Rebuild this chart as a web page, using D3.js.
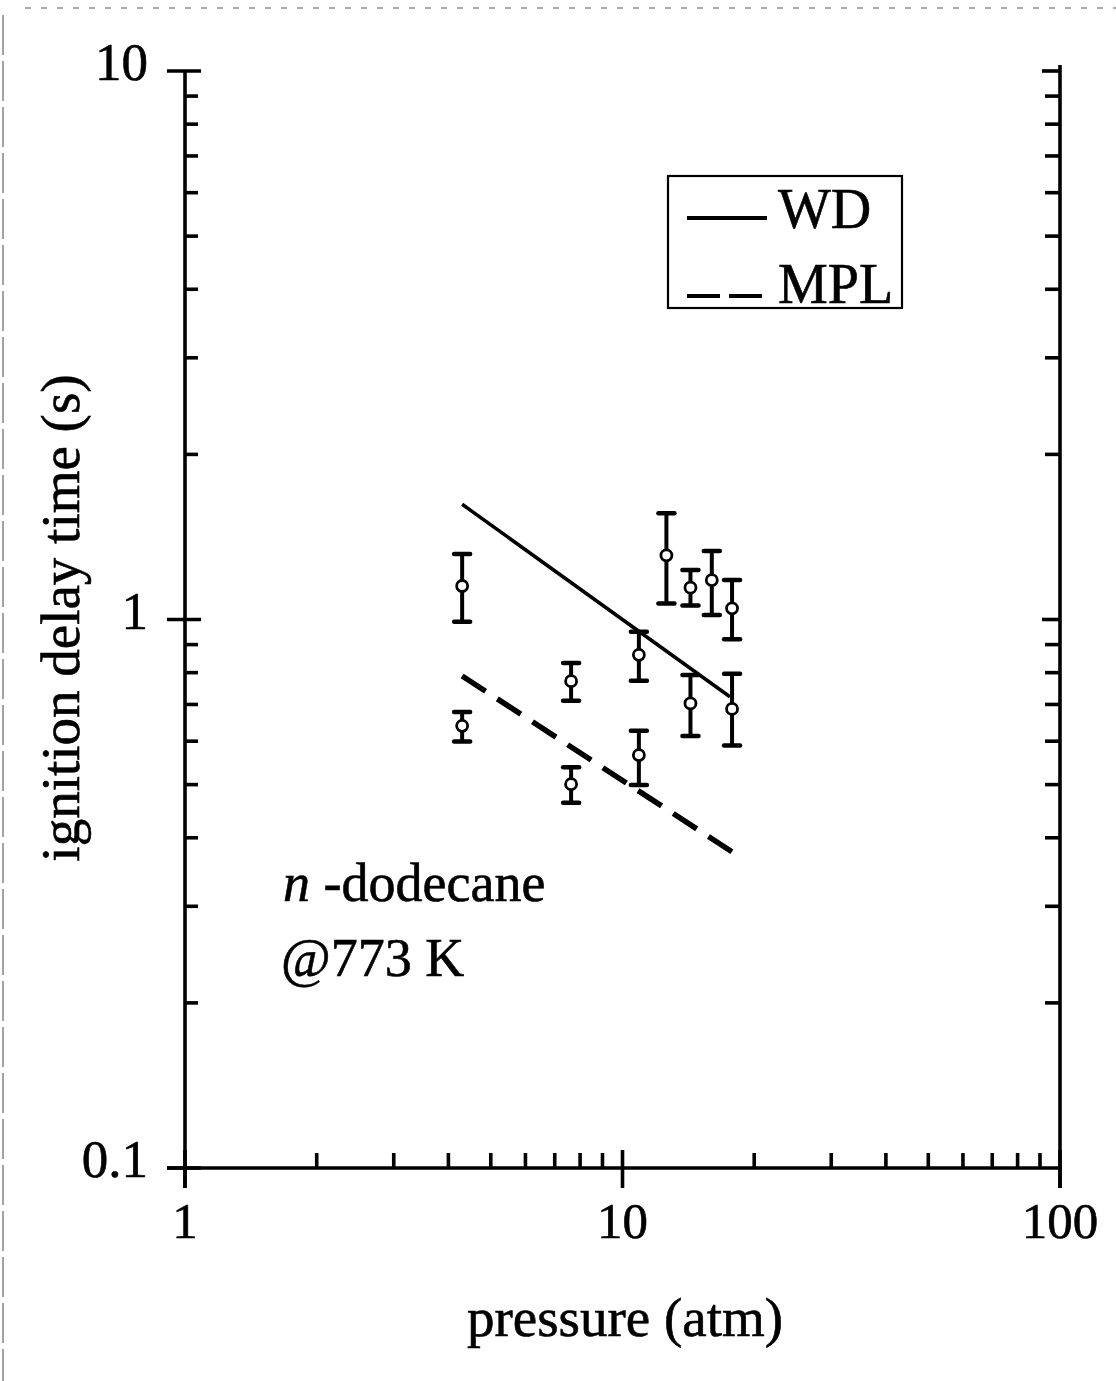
<!DOCTYPE html>
<html>
<head>
<meta charset="utf-8">
<script src="https://cdn.jsdelivr.net/npm/d3@7"></script>
<style>
  html, body { margin: 0; padding: 0; background: #fff; }
  svg { display: block; }
  text { font-family: "Liberation Serif", "DejaVu Serif", serif; fill: #000; stroke: #000; stroke-width: 0.6; }
</style>
</head>
<body>
<svg id="chart" width="1116" height="1381"></svg>
<script>
// ---- data ----
const pressure = [4.30, 4.30, 7.63, 7.63, 10.9, 10.9, 12.6, 14.3, 16.0, 17.8, 14.3, 17.8];
const delay    = [1.151, 0.640, 0.772, 0.501, 0.862, 0.566, 1.309, 1.143, 1.180, 1.048, 0.703, 0.687];
const errHigh  = [1.316, 0.678, 0.833, 0.538, 0.950, 0.627, 1.562, 1.231, 1.333, 1.180, 0.792, 0.796];
const errLow   = [0.991, 0.599, 0.711, 0.4635, 0.773, 0.499, 1.070, 1.060, 1.019, 0.920, 0.613, 0.589];

const wdP   = [4.30, 17.6];
const wdT   = [1.622, 0.723];
const mplP  = [4.30, 17.8];
const mplT  = [0.789, 0.377];

const xTickLabels = ["1", "10", "100"];
const xTickValues = [1, 10, 100];
const yTickLabels = ["0.1", "1", "10"];
const yTickValues = [0.1, 1, 10];
const legendLabels = ["WD", "MPL"];

// ---- layout ----
const svg = d3.select("#chart");
const x = d3.scaleLog().domain([1, 100]).range([185, 1060]);
const y = d3.scaleLog().domain([0.1, 10]).range([1168, 71]);

const axisW = 3.6;
const g = svg.append("g");

// scan border artifacts
g.append("line").attr("x1", 25).attr("x2", 1116).attr("y1", 8).attr("y2", 8)
  .attr("stroke", "#555").attr("stroke-width", 1.2).attr("stroke-dasharray", "6,10");
g.append("line").attr("x1", 3).attr("x2", 3).attr("y1", 15).attr("y2", 1381)
  .attr("stroke", "#666").attr("stroke-width", 1.2).attr("stroke-dasharray", "40,6");

// minor tick values
const minorX = [];
[1, 10].forEach(d => { for (let k = 2; k <= 9; k++) minorX.push(d * k); });
const minorY = [];
[0.1, 1].forEach(d => { for (let k = 2; k <= 9; k++) minorY.push(d * k); });

const x0 = x(1), x1 = x(100), yb = y(0.1), yt = y(10);

// left axis
g.append("line").attr("x1", x0).attr("x2", x0).attr("y1", yt).attr("y2", yb + 20)
  .attr("stroke", "#000").attr("stroke-width", axisW);
// right axis
g.append("line").attr("x1", x1).attr("x2", x1).attr("y1", yt - 6).attr("y2", yb + 20)
  .attr("stroke", "#000").attr("stroke-width", axisW);
// bottom axis
g.append("line").attr("x1", x0 - 18).attr("x2", x1).attr("y1", yb).attr("y2", yb)
  .attr("stroke", "#000").attr("stroke-width", axisW);

// y minor ticks (left inward, right inward)
g.selectAll(".ymL").data(minorY).enter().append("line")
  .attr("x1", x0).attr("x2", x0 + 13).attr("y1", d => y(d)).attr("y2", d => y(d))
  .attr("stroke", "#000").attr("stroke-width", axisW);
g.selectAll(".ymR").data(minorY).enter().append("line")
  .attr("x1", x1).attr("x2", x1 - 15).attr("y1", d => y(d)).attr("y2", d => y(d))
  .attr("stroke", "#000").attr("stroke-width", axisW);
// y major ticks
g.selectAll(".yML").data(yTickValues).enter().append("line")
  .attr("x1", x0 - 18).attr("x2", x0 + 16).attr("y1", d => y(d)).attr("y2", d => y(d))
  .attr("stroke", "#000").attr("stroke-width", axisW);
g.selectAll(".yMR").data(yTickValues.filter(d => d > 0.1)).enter().append("line")
  .attr("x1", x1).attr("x2", x1 - 18).attr("y1", d => y(d)).attr("y2", d => y(d))
  .attr("stroke", "#000").attr("stroke-width", axisW);

// x minor ticks (upward)
g.selectAll(".xm").data(minorX).enter().append("line")
  .attr("x1", d => x(d)).attr("x2", d => x(d)).attr("y1", yb).attr("y2", yb - 15)
  .attr("stroke", "#000").attr("stroke-width", axisW);
// x major ticks
g.selectAll(".xM").data(xTickValues).enter().append("line")
  .attr("x1", d => x(d)).attr("x2", d => x(d)).attr("y1", yb - 18).attr("y2", yb + 20)
  .attr("stroke", "#000").attr("stroke-width", axisW);

// tick labels
g.selectAll(".xl").data(xTickValues).enter().append("text")
  .attr("x", d => x(d)).attr("y", yb + 70)
  .attr("text-anchor", "middle").attr("font-size", 51)
  .text((d, i) => xTickLabels[i]);
g.selectAll(".yl").data(yTickValues).enter().append("text")
  .attr("x", 148).attr("y", d => y(d) + 9)
  .attr("text-anchor", "end").attr("font-size", 53)
  .text((d, i) => yTickLabels[i]);

// axis titles
g.append("text").attr("x", 625).attr("y", 1336).attr("text-anchor", "middle")
  .attr("font-size", 55).text("pressure (atm)");
g.append("text").attr("transform", "translate(79,618) rotate(-90)")
  .attr("text-anchor", "middle").attr("font-size", 55).text("ignition delay time (s)");

// lines
const line = d3.line().x(d => x(d[0])).y(d => y(d[1]));
g.append("path").datum(wdP.map((p, i) => [p, wdT[i]])).attr("d", line)
  .attr("fill", "none").attr("stroke", "#000").attr("stroke-width", 3.5);
g.append("path").datum(mplP.map((p, i) => [p, mplT[i]])).attr("d", line)
  .attr("fill", "none").attr("stroke", "#000").attr("stroke-width", 5.5)
  .attr("stroke-dasharray", "28,14");

// error bars
const pts = pressure.map((p, i) => ({ p, t: delay[i], hi: errHigh[i], lo: errLow[i] }));
const eb = g.selectAll(".eb").data(pts).enter().append("g");
eb.append("line").attr("x1", d => x(d.p)).attr("x2", d => x(d.p))
  .attr("y1", d => y(d.hi)).attr("y2", d => y(d.lo))
  .attr("stroke", "#000").attr("stroke-width", 4);
eb.append("line").attr("x1", d => x(d.p) - 8).attr("x2", d => x(d.p) + 8)
  .attr("y1", d => y(d.hi)).attr("y2", d => y(d.hi))
  .attr("stroke", "#000").attr("stroke-width", 4.5).attr("stroke-linecap", "round");
eb.append("line").attr("x1", d => x(d.p) - 8).attr("x2", d => x(d.p) + 8)
  .attr("y1", d => y(d.lo)).attr("y2", d => y(d.lo))
  .attr("stroke", "#000").attr("stroke-width", 4.5).attr("stroke-linecap", "round");
eb.append("circle").attr("cx", d => x(d.p)).attr("cy", d => y(d.t)).attr("r", 5.5)
  .attr("fill", "#fff").attr("stroke", "#000").attr("stroke-width", 2.8);

// annotation
const ann = g.append("text").attr("x", 283).attr("y", 901).attr("font-size", 54);
ann.append("tspan").attr("font-style", "italic").text("n");
ann.append("tspan").text(" -dodecane");
g.append("text").attr("x", 281).attr("y", 976).attr("font-size", 54).text("@773 K");

// legend
const lg = g.append("g");
lg.append("rect").attr("x", 668).attr("y", 176).attr("width", 234).attr("height", 132)
  .attr("fill", "#fff").attr("stroke", "#000").attr("stroke-width", 2.2);
lg.append("line").attr("x1", 687).attr("x2", 767).attr("y1", 218).attr("y2", 218)
  .attr("stroke", "#000").attr("stroke-width", 4);
lg.append("line").attr("x1", 687).attr("x2", 767).attr("y1", 296).attr("y2", 296)
  .attr("stroke", "#000").attr("stroke-width", 4).attr("stroke-dasharray", "33,9");
lg.selectAll(".lt").data(legendLabels).enter().append("text")
  .attr("x", 778).attr("y", (d, i) => 228 + i * 75).attr("font-size", 56)
  .text(d => d);
</script>
</body>
</html>
